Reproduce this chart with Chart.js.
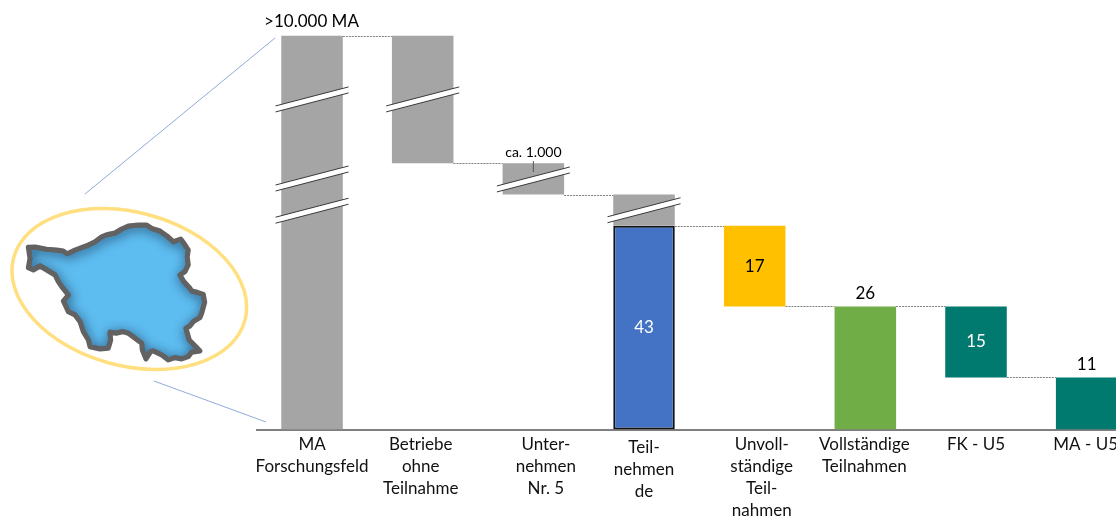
<!DOCTYPE html>
<html>

<head>
  <meta charset="utf-8">
  <title>Teilnahme Forschungsfeld</title>
  <script src="https://cdn.jsdelivr.net/npm/chart.js@4/dist/chart.umd.min.js"></script>
  <style>
    html, body { margin: 0; padding: 0; background: #fff; overflow: hidden; width: 1116px; height: 517px; }
    canvas { display: block; }
  </style>
</head>

<body>
  <canvas id="funnel" width="1142" height="517"></canvas>

  <script>
    const categories = [
      ['MA', 'Forschungsfeld'],
      ['Betriebe', 'ohne', 'Teilnahme'],
      ['Unter-', 'nehmen', 'Nr. 5'],
      ['Teil-', 'nehmen', 'de'],
      ['Unvoll-', 'ständige', 'Teil-', 'nahmen'],
      ['Vollständige', 'Teilnahmen'],
      ['FK - U5'],
      ['MA - U5']
    ];

    // grey bars are not to scale, the axis is broken on them
    const greyBottom = [0, 56.2, 49.6, 43, null, null, null, null];
    const greyTop = [83.2, 83.2, 56.2, 49.6, null, null, null, null];

    const counts = [null, null, null, 43, 17, 26, 15, 11];
    const countBottom = [null, null, null, 0, 26, 0, 11, 0];
    const countColors = ['#a5a5a5', '#a5a5a5', '#a5a5a5', '#4472c4', '#ffc000', '#70ad47', '#007a6e', '#007a6e'];

    const breakBars = [0, 0, 0, 1, 2, 3];
    const breakLevels = [69.7, 53, 46.2, 69.7, 52.8, 46.3];

    const topLabel = '>10.000 MA';
    const smallLabel = 'ca. 1.000';

    const FONT = 'Lato, Carlito, sans-serif';

    const mapOutline = [
      [28.3, 247.3], [35, 247], [46.7, 249.3], [56.7, 250], [63.3, 251], [67.3, 253.7], [75, 250], [86.7, 245.7],
      [95, 241.7], [101.7, 236.7], [106, 235], [110, 234], [115, 233], [121.7, 229], [128.3, 226], [138.3, 225],
      [146.7, 225], [151.7, 228.3], [160, 231], [166.7, 235.7], [173.3, 241.7], [175, 241], [180.7, 239], [184, 243.3],
      [188.3, 250], [187.3, 256.7], [188.3, 265], [185, 271.7], [180, 275], [184, 281.7], [190, 288.3], [191.7, 291],
      [197.3, 292.3], [203.3, 294.3], [204.7, 302.3], [201.7, 313.3], [200, 317.7], [193.3, 321.7], [190, 326],
      [186, 328.3], [189.3, 340], [195, 345.7], [200, 351], [191.7, 352.3], [188.3, 356.7], [181.7, 359], [175, 357.7],
      [168.3, 360], [161.7, 355], [153.3, 351], [150.7, 351.7], [146, 359], [142.3, 350], [141.7, 343.3], [135, 338.3],
      [128.3, 333.3], [122.7, 331.7], [116, 333.3], [110, 332.3], [110.7, 340], [108.3, 348.3], [100, 349], [90, 346.7],
      [88.3, 340], [83.3, 331.7], [80, 321.7], [75, 315], [68.3, 311.7], [63.3, 301], [68.3, 295], [61.7, 286.7],
      [58.3, 281.7], [55, 275], [46.7, 270], [40, 266], [33.3, 270], [28.3, 267.7], [30, 258.3]
    ];

    function tracePolygon(ctx, points) {
      ctx.beginPath();
      points.forEach(([x, y], i) => (i ? ctx.lineTo(x, y) : ctx.moveTo(x, y)));
      ctx.closePath();
    }

    // Saarland inset with its ring and the two guide lines towards the first bar
    const insetPlugin = {
      id: 'inset',
      afterDraw(chart) {
        const ctx = chart.ctx;
        ctx.save();

        ctx.strokeStyle = '#8faadc';
        ctx.lineWidth = 1;
        ctx.beginPath();
        ctx.moveTo(85, 194);
        ctx.lineTo(275, 38);
        ctx.moveTo(154, 381);
        ctx.lineTo(266, 422);
        ctx.stroke();

        ctx.strokeStyle = '#ffdf7f';
        ctx.lineWidth = 3.5;
        ctx.beginPath();
        ctx.ellipse(129.3, 289, 119.8, 76.7, 15.2 * Math.PI / 180, 0, Math.PI * 2);
        ctx.stroke();

        ctx.lineJoin = 'round';
        tracePolygon(ctx, mapOutline);
        ctx.fillStyle = '#5dbcf0';
        ctx.fill();

        // inner shadow along the border, a bit heavier towards the top left
        ctx.save();
        tracePolygon(ctx, mapOutline);
        ctx.clip();
        ctx.shadowColor = 'rgba(25, 50, 80, 0.9)';
        ctx.shadowBlur = 11;
        ctx.shadowOffsetX = 1;
        ctx.shadowOffsetY = 2;
        ctx.strokeStyle = '#5f5f5f';
        ctx.lineWidth = 5;
        tracePolygon(ctx, mapOutline);
        ctx.stroke();
        ctx.restore();

        tracePolygon(ctx, mapOutline);
        ctx.strokeStyle = '#626262';
        ctx.lineWidth = 5;
        ctx.stroke();

        ctx.restore();
      }
    };

    // dashed steps, axis break marks and all the texts
    const annotationsPlugin = {
      id: 'annotations',
      afterDatasetsDraw(chart) {
        const ctx = chart.ctx;
        const xScale = chart.scales.x;
        const yScale = chart.scales.y;
        const countBars = chart.getDatasetMeta(1).data;

        ctx.save();
        ctx.strokeStyle = '#7f7f7f';
        ctx.lineWidth = 1;
        ctx.setLineDash([2, 1]);
        const levels = [83.2, 56.2, 49.6, 43, 26, 26, 11];
        levels.forEach((level, i) => {
          const y = Math.round(yScale.getPixelForValue(level)) + 0.5;
          const halfWidth = countBars[3].width / 2;
          ctx.beginPath();
          ctx.moveTo(xScale.getPixelForValue(i) + halfWidth, y);
          ctx.lineTo(xScale.getPixelForValue(i + 1) - halfWidth, y);
          ctx.stroke();
        });
        ctx.setLineDash([]);

        breakBars.forEach((bar, i) => {
          const x = xScale.getPixelForValue(bar);
          const y = yScale.getPixelForValue(breakLevels[i]);
          const dx = 36.5;
          const rise = 9.5;
          const gap = 3;
          ctx.fillStyle = '#fff';
          ctx.beginPath();
          ctx.moveTo(x - dx, y + rise - gap);
          ctx.lineTo(x + dx, y - rise - gap);
          ctx.lineTo(x + dx, y - rise + gap);
          ctx.lineTo(x - dx, y + rise + gap);
          ctx.closePath();
          ctx.fill();
          ctx.strokeStyle = '#3a3a3a';
          ctx.lineWidth = 1;
          [-gap, gap].forEach(off => {
            ctx.beginPath();
            ctx.moveTo(x - dx, y + rise + off);
            ctx.lineTo(x + dx, y - rise + off);
            ctx.stroke();
          });
        });

        ctx.textAlign = 'center';
        ctx.textBaseline = 'middle';

        ctx.fillStyle = '#000';
        ctx.font = '17px ' + FONT;
        ctx.fillText(topLabel, 311.5, 22);

        const smallX = xScale.getPixelForValue(2);
        ctx.font = '14px ' + FONT;
        ctx.fillText(smallLabel, smallX, 152);
        ctx.strokeStyle = '#555';
        ctx.lineWidth = 1;
        ctx.beginPath();
        ctx.moveTo(smallX, 161);
        ctx.lineTo(smallX, 172);
        ctx.stroke();

        ctx.font = '17px ' + FONT;
        counts.forEach((count, i) => {
          if (count === null) return;
          const bar = countBars[i];
          const outside = i === 5 || i === 7;
          const y = outside ? bar.y - 13 : (bar.y + bar.base) / 2;
          ctx.fillStyle = i === 3 || i === 6 ? '#fff' : '#000';
          ctx.fillText(String(count), bar.x, y);
        });

        // category texts; some of them sit a little off their bar
        ctx.fillStyle = '#111';
        ctx.font = '17px ' + FONT;
        const shiftX = [0, -2, 12.5, 0, 7, -1, 0, -1];
        const startY = [444.5, 444.5, 444.5, 448, 445, 444.5, 444.5, 444.5];
        categories.forEach((lines, i) => {
          const x = xScale.getPixelForValue(i) + shiftX[i];
          lines.forEach((line, k) => ctx.fillText(line, x, startY[i] + k * 21.8));
        });
        ctx.restore();
      }
    };

    new Chart(document.getElementById('funnel'), {
      data: {
        labels: categories,
        datasets: [{
          type: 'bar',
          label: 'Grundgesamtheit',
          data: greyBottom.map((low, i) => (low === null ? null : [low, greyTop[i]])),
          backgroundColor: '#a5a5a5',
          grouped: false,
          barPercentage: 0.556,
          categoryPercentage: 1
        }, {
          type: 'bar',
          label: 'Teilnahmen',
          data: counts.map((count, i) => (count === null ? null : [countBottom[i], countBottom[i] + count])),
          backgroundColor: countColors,
          borderColor: '#111',
          borderWidth: counts.map((count, i) => (i === 3 ? 2 : 0)),
          borderSkipped: false,
          grouped: false,
          barPercentage: 0.556,
          categoryPercentage: 1
        }]
      },
      options: {
        responsive: false,
        animation: false,
        layout: { padding: { left: 256.7, right: 0, top: 35.5, bottom: 79.5 } },
        plugins: { legend: { display: false }, tooltip: { enabled: false } },
        scales: {
          x: {
            grid: { display: false },
            border: { color: '#7f7f7f', width: 2 },
            ticks: { display: false }
          },
          y: {
            display: false,
            min: 0,
            max: 83.2
          }
        }
      },
      plugins: [annotationsPlugin, insetPlugin]
    });
  </script>
</body>

</html>
